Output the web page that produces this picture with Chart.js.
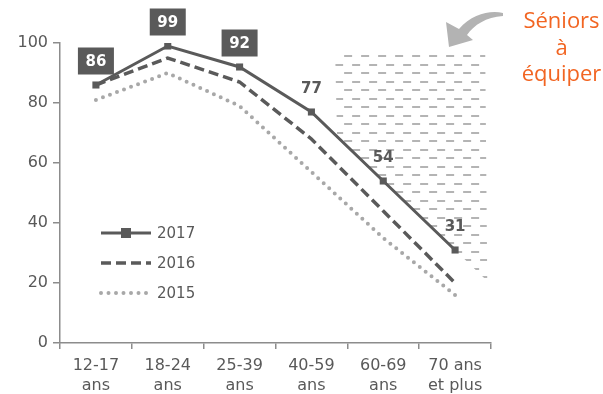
<!DOCTYPE html>
<html>
<head>
<meta charset="utf-8">
<script src="https://cdn.jsdelivr.net/npm/chart.js@4"></script>
<style>
  body { margin: 0; background: #fff; }
</style>
</head>
<body>
<canvas id="ages" width="603" height="394"></canvas>
<script>
var categories = [['12-17', 'ans'], ['18-24', 'ans'], ['25-39', 'ans'], ['40-59', 'ans'], ['60-69', 'ans'], ['70 ans', 'et plus']];
var years = ['2017', '2016', '2015'];
var values2017 = [86, 99, 92, 77, 54, 31];
var values2016 = [86, 95, 87, 68, 44, 20];
var values2015 = [81, 90, 79, 57, 35, 16];
var boxedLabels = [0, 1, 2];
var yTicks = [0, 20, 40, 60, 80, 100];
var calloutLines = ['Séniors', 'à', 'équiper'];
// hatched zone, in category index / value units
var zoneLeft = 3.33, zoneRight = 5.42, zoneTop = 96;

var dark = '#5a5a5a';
var light = '#a8a8a8';
var axisGray = '#8c8c8c';
var textGray = '#595959';
var orange = '#f26522';

function valueAt(arr, idx) {
    var i = Math.min(Math.floor(idx), arr.length - 2);
    var t = idx - i;
    return arr[i] + (arr[i + 1] - arr[i]) * t;
}

var decor = {
    id: 'decor',
    beforeDatasetsDraw: function (chart) {
        var ctx = chart.ctx, x = chart.scales.x, y = chart.scales.y;
        var px = function (i) { return x.getPixelForValue(0) + (x.getPixelForValue(1) - x.getPixelForValue(0)) * i; };
        var pts = [[zoneLeft, zoneTop], [zoneRight, zoneTop], [zoneRight, valueAt(values2017, zoneRight)]];
        for (var i = values2017.length - 1; i > zoneLeft; i--) pts.push([i, values2017[i]]);
        pts.push([zoneLeft, valueAt(values2017, zoneLeft)]);
        ctx.save();
        ctx.beginPath();
        pts.forEach(function (p, k) {
            var X = px(p[0]) + 2, Y = y.getPixelForValue(p[1]) + 2;
            if (k < 2) Y = y.getPixelForValue(p[1]);
            if (k === 0) ctx.moveTo(px(p[0]), Y); else ctx.lineTo(k === 1 ? px(p[0]) : X, Y);
        });
        ctx.closePath();
        ctx.clip();
        ctx.strokeStyle = '#b4b4b4';
        ctx.lineWidth = 2;
        var left = px(zoneLeft), right = px(zoneRight);
        var top = Math.round(y.getPixelForValue(zoneTop));
        var row = 0;
        for (var r = top + 1; r < y.getPixelForValue(0); r += 8.5, row++) {
            ctx.beginPath();
            for (var dx = left + (row % 2 === 0 ? 9 : 0); dx < right; dx += 17) {
                ctx.moveTo(dx, Math.round(r));
                ctx.lineTo(dx + 8, Math.round(r));
            }
            ctx.stroke();
        }
        ctx.restore();
    },
    afterDatasetsDraw: function (chart) {
        var ctx = chart.ctx;
        var meta = chart.getDatasetMeta(0);
        ctx.save();
        ctx.font = 'bold 15px "DejaVu Sans"';
        ctx.textAlign = 'center';
        ctx.textBaseline = 'middle';
        meta.data.forEach(function (pt, i) {
            var cx = pt.x, cy = pt.y - 24;
            if (boxedLabels.indexOf(i) >= 0) {
                ctx.fillStyle = dark;
                ctx.fillRect(cx - 18, cy - 13.5, 36, 27);
                ctx.fillStyle = '#fff';
            } else {
                ctx.fillStyle = textGray;
            }
            ctx.fillText(String(values2017[i]), cx, cy + 1);
        });

        // legend inside the plot
        ctx.font = '15px "DejaVu Sans"';
        ctx.textAlign = 'left';
        chart.data.datasets.forEach(function (ds, k) {
            var ly = 233 + k * 30, lx = 101;
            ctx.strokeStyle = ds.borderColor;
            ctx.lineWidth = ds.borderWidth;
            ctx.lineCap = ds.borderCapStyle || 'butt';
            ctx.setLineDash(ds.borderDash || []);
            ctx.beginPath();
            ctx.moveTo(lx, ly);
            ctx.lineTo(lx + 50, ly);
            ctx.stroke();
            if (ds.pointRadius > 0) {
                ctx.fillStyle = ds.borderColor;
                ctx.fillRect(lx + 25 - 5, ly - 5, 10, 10);
            }
            ctx.setLineDash([]);
            ctx.fillStyle = textGray;
            ctx.fillText(ds.label, lx + 56, ly + 1);
        });
        ctx.restore();
    },
    afterDraw: function (chart) {
        var ctx = chart.ctx;
        ctx.save();
        // curved arrow
        ctx.fillStyle = '#b3b3b3';
        ctx.beginPath();
        ctx.moveTo(503, 13);
        ctx.bezierCurveTo(490, 10, 472, 14, 459, 29);
        ctx.lineTo(446, 22);
        ctx.lineTo(449, 47);
        ctx.lineTo(473, 40);
        ctx.lineTo(467, 35);
        ctx.bezierCurveTo(474, 25, 486, 17, 503, 16);
        ctx.closePath();
        ctx.fill();

        ctx.fillStyle = orange;
        ctx.font = '22px "Open Sans"';
        ctx.textAlign = 'center';
        ctx.textBaseline = 'middle';
        calloutLines.forEach(function (t, i) {
            ctx.fillText(t, 561.5, 22 + i * 26.5);
        });
        ctx.restore();
    }
};

new Chart(document.getElementById('ages'), {
    type: 'line',
    data: {
        labels: categories,
        datasets: [{
            label: years[0],
            data: values2017,
            borderColor: dark,
            backgroundColor: dark,
            borderWidth: 3,
            pointStyle: 'rect',
            pointRadius: 5,
            pointBackgroundColor: dark,
            pointBorderWidth: 0,
            tension: 0
        }, {
            label: years[1],
            data: values2016,
            borderColor: dark,
            borderWidth: 3.5,
            borderDash: [10, 5],
            pointRadius: 0,
            tension: 0
        }, {
            label: years[2],
            data: values2015,
            borderColor: light,
            borderWidth: 4,
            borderDash: [0, 7.5],
            borderCapStyle: 'round',
            pointRadius: 0,
            tension: 0
        }]
    },
    options: {
        responsive: false,
        animation: false,
        devicePixelRatio: 1,
        layout: { padding: { left: 0, top: 43, right: 112, bottom: 0 } },
        plugins: { legend: { display: false }, tooltip: { enabled: false } },
        scales: {
            x: {
                offset: true,
                grid: { display: true, drawOnChartArea: false, offset: true, tickLength: 6, color: axisGray, lineWidth: 1.5 },
                border: { color: axisGray, width: 1.5 },
                ticks: { color: textGray, font: { family: 'DejaVu Sans', size: 16, lineHeight: 1.25 }, padding: 7, maxRotation: 0 },
                afterFit: function (s) { s.height = 51; }
            },
            y: {
                min: 0,
                max: 100,
                afterBuildTicks: function (s) { s.ticks = yTicks.map(function (v) { return { value: v }; }); },
                grid: { display: true, drawOnChartArea: false, tickLength: 7, color: axisGray, lineWidth: 1.5 },
                border: { color: axisGray, width: 1.5 },
                ticks: { color: textGray, font: { family: 'DejaVu Sans', size: 16 }, padding: 5 },
                afterFit: function (s) { s.width = 60; }
            }
        }
    },
    plugins: [decor]
});
</script>
</body>
</html>
